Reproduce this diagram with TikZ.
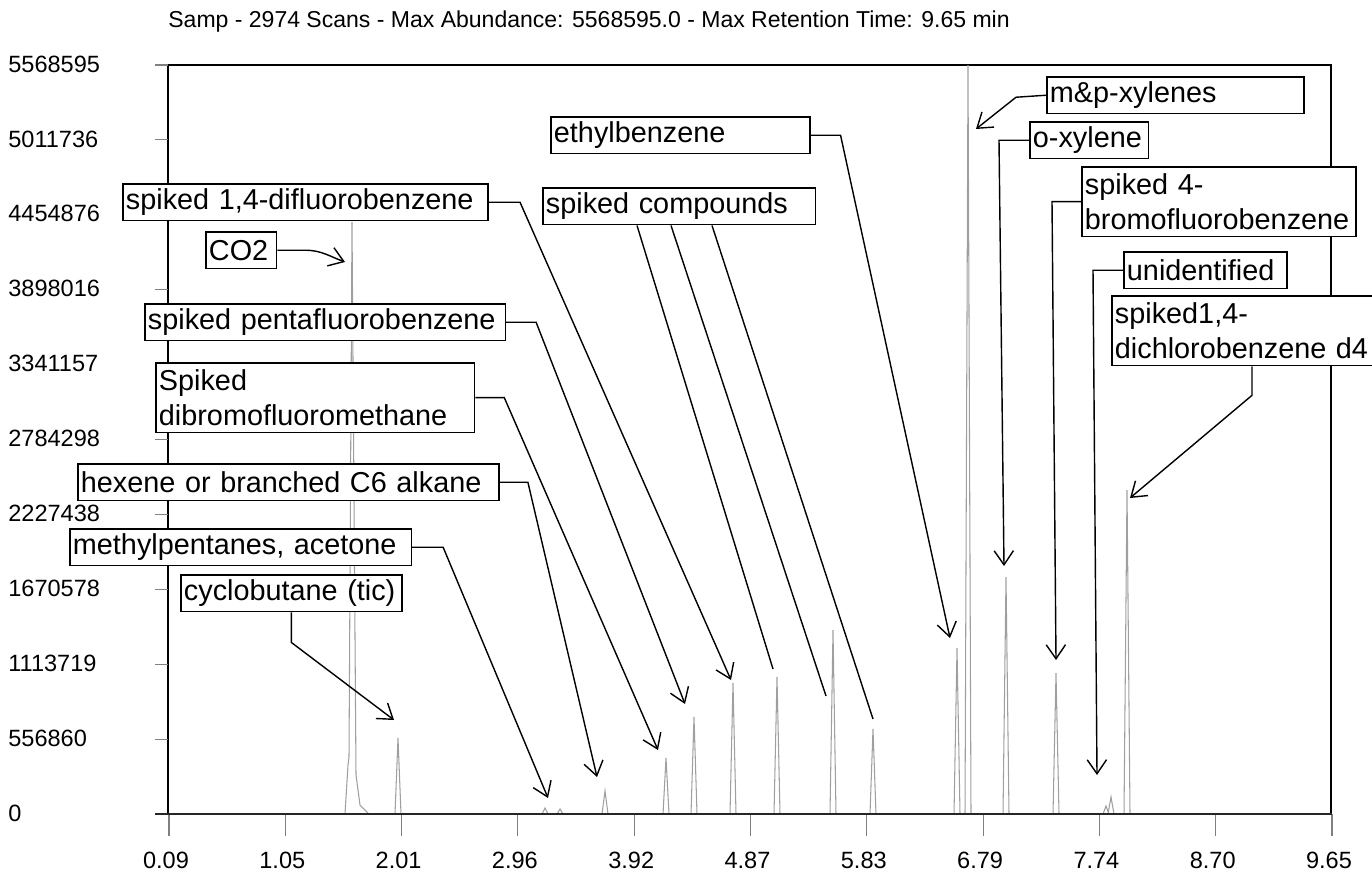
\documentclass[tikz,border=0pt]{standalone}
\usepackage{fontspec}
\setmainfont{Liberation Sans}
\usetikzlibrary{calc}
\usetikzlibrary{arrows.meta}
\hyphenpenalty=10000
\exhyphenpenalty=10000

\begin{document}
\begin{tikzpicture}[x=0.02cm, y=-0.02cm]
                \tikzstyle{namebox}  = [draw, fill=white, line width=0.9pt, anchor=north west, align=left, inner xsep=1.8pt, inner ysep=1pt, minimum height=21pt, font=\fontsize{16.4}{19.8}\selectfont]
                \tikzstyle{twoline}  = [minimum height=39.7pt]
                \tikzstyle{pointer}  = [line width=0.8pt, -{Straight Barb[length=8pt,width=11pt]}]
                \tikzstyle{plainline} = [line width=0.8pt]
                \tikzstyle{spike}    = [gray!75, line width=0.6pt]
                \tikzstyle{axisline} = [line width=1.1pt]
                \tikzstyle{zeroline} = [line width=1.5pt, black!85]
                \tikzstyle{tickmark} = [gray, line width=0.6pt]
                \tikzstyle{numlab}   = [inner sep=0pt, font=\fontsize{13.4}{16}\selectfont]
                \useasboundingbox (0,0) rectangle (1372,886);
                %%Title
                \node [numlab, anchor=west, font=\fontsize{13.1}{15}\selectfont](title) at (168,22) {Samp - 2974 Scans - Max Abundance: 5568595.0 - Max Retention Time: 9.65 min};
                %%Axes
                \draw [axisline] (168,814) -- (168,65);
                \draw [axisline] (155,65) -- (1331,65) -- (1331,814);
                \foreach \i in {0,...,10}
                    \draw [tickmark] (155, 65+74.9*\i) -- (168, 65+74.9*\i);
                \foreach \i in {0,...,10}
                    \draw [tickmark] (169+116.3*\i, 814) -- (169+116.3*\i, 836);
                \foreach \val [count=\i from 0] in {5568595, 5011736, 4454876, 3898016, 3341157, 2784298, 2227438, 1670578, 1113719, 556860, 0}
                    \node [numlab, anchor=west](y\i) at (8, 64+74.9*\i) {\val};
                \foreach \val [count=\i from 0] in {0.09, 1.05, 2.01, 2.96, 3.92, 4.87, 5.83, 6.79, 7.74, 8.70, 9.65}
                    \node [numlab](x\i) at (166+116.3*\i, 860) {\val};
                %%Peaks
                \draw [spike] (345,814) -- (348,765) -- (349,757) -- (352,222) -- (356,775) -- (360,805) -- (368,813);
                \foreach \px/\py in {398/738, 545/808, 560/809, 605/791, 666/758, 694/717, 733/683, 777/677, 833/630, 873/729, 957/648, 968/65, 1006/577, 1056/673, 1106/806, 1111/797, 1127/490}
                    \draw [spike] (\px-3,814) -- (\px,\py) -- (\px+3,814);
                \draw [zeroline] (155,814) -- (1332,814);
                %%Labels
                \node [namebox, text width=204.4pt](dfb) at (122,183) {spiked 1,4-difluorobenzene};
                \node [namebox, text width=36.7pt](co2) at (205,231) {CO2};
                \node [namebox, text width=201.6pt](pfb) at (144,303) {spiked pentafluorobenzene};
                \node [namebox, twoline, text width=177.8pt](dbfm) at (155,362) {Spiked\\dibromofluoromethane};
                \node [namebox, text width=236.2pt](hex) at (77,463) {hexene or branched C6 alkane};
                \node [namebox, text width=190.8pt](mpa) at (69,528) {methylpentanes, acetone};
                \node [namebox, text width=122.3pt](cyc) at (180,574) {cyclobutane (tic)};
                \node [namebox, text width=143.8pt](eb) at (550,116) {ethylbenzene};
                \node [namebox, text width=151.7pt](sc) at (542,187) {spiked compounds};
                \node [namebox, text width=142.7pt](mpx) at (1046,76) {m\&p-xylenes};
                \node [namebox, text width=63.9pt](ox) at (1029,121) {o-xylene};
                \node [namebox, twoline, text width=152.3pt](bfb) at (1081,166) {spiked 4-\\bromofluorobenzene};
                \node [namebox, text width=89.4pt](unid) at (1123,251) {unidentified};
                \node [namebox, twoline, text width=150pt](dcb) at (1111,295) {spiked1,4-\\dichlorobenzene d4};
                %%Arrow tips
                \coordinate (tco2) at (345,262);
                \coordinate (tdfb) at (731,680);
                \coordinate (tpfb) at (685,704);
                \coordinate (tdbfm) at (658,750);
                \coordinate (thex) at (597,777);
                \coordinate (tmpa) at (548,798);
                \coordinate (tcyc) at (394,720);
                \coordinate (teb) at (950,638);
                \coordinate (tsc1) at (773,669);
                \coordinate (tsc2) at (826,696);
                \coordinate (tsc3) at (873,719);
                \coordinate (tmpx) at (976,129);
                \coordinate (tox) at (1004,566);
                \coordinate (tbfb) at (1056,660);
                \coordinate (tunid) at (1097,775);
                \coordinate (tdcb) at (1130,498);
                %%Leaders
                \draw [pointer] (co2.east) -- ++(28,0) to[out=0, in=160] (tco2);
                \draw [pointer] (dfb.east) -- ++(31,0) -- (tdfb);
                \draw [pointer] (pfb.east) -- ++(30,0) -- (tpfb);
                \draw [pointer] (dbfm.east) -- ++(29,0) -- (tdbfm);
                \draw [pointer] (hex.east) -- ++(28,0) -- (thex);
                \draw [pointer] (mpa.east) -- ++(31,0) -- (tmpa);
                \draw [pointer] (cyc.south) -- ++(0,30) -- (tcyc);
                \draw [pointer] (eb.east) -- ++(30,0) -- (teb);
                \draw [plainline] ($(sc.south west)+(95,0)$) -- (tsc1);
                \draw [plainline] ($(sc.south west)+(129,0)$) -- (tsc2);
                \draw [plainline] ($(sc.south west)+(170,0)$) -- (tsc3);
                \draw [pointer] (mpx.west) -- ++(-30,2) -- (tmpx);
                \draw [pointer] (ox.west) -- ++(-30,0) -- (tox);
                \draw [pointer] (bfb.west) -- ++(-29,0) -- (tbfb);
                \draw [pointer] (unid.west) -- ++(-30,0) -- (tunid);
                \draw [pointer] ($(dcb.south west)+(141,0)$) -- ++(0,29) -- (tdcb);
\end{tikzpicture}
\end{document}
